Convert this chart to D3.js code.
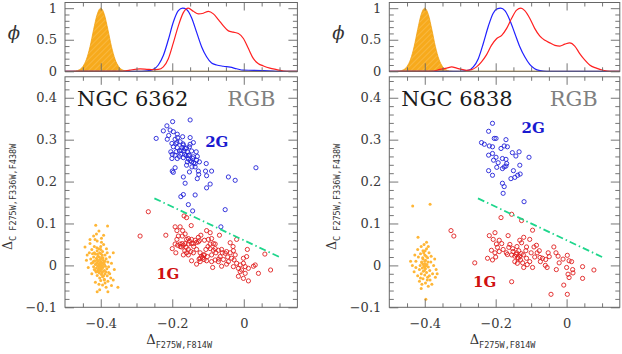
<!DOCTYPE html>
<html>
<head>
<meta charset="utf-8">
<script src="https://cdn.jsdelivr.net/npm/d3@7"></script>
<style>
body { margin: 0; background: #fff; }
</style>
</head>
<body>
<svg width="622" height="354"></svg>
<script>
// cluster names and population labels
const clusters = ["NGC 6362", "NGC 6838"];
const stage = "RGB";

// NGC 6362: 1G (red), 2G (blue) and error distribution (orange)
const red6362 = [[-0.267,0.128],[-0.167,0.118],[-0.160,0.114],[-0.147,0.095],[-0.192,0.092],[-0.178,0.092],
  [-0.218,0.072],[-0.290,0.070],[-0.187,0.083],[-0.171,0.083],[-0.172,0.070],[-0.183,0.070],[-0.187,0.062],
  [-0.164,0.075],[-0.155,0.064],[-0.146,0.062],[-0.136,0.060],[-0.127,0.067],[-0.120,0.072],[-0.127,0.056],
  [-0.141,0.052],[-0.192,0.051],[-0.178,0.051],[-0.169,0.048],[-0.164,0.052],[-0.155,0.051],[-0.146,0.052],
  [-0.132,0.055],[-0.124,0.059],[-0.174,0.044],[-0.161,0.043],[-0.155,0.038],[-0.148,0.033],[-0.160,0.030],
  [-0.169,0.025],[-0.155,0.025],[-0.141,0.030],[-0.132,0.038],[-0.104,0.083],[-0.094,0.078],[-0.068,0.072],
  [-0.099,0.062],[-0.090,0.064],[-0.085,0.052],[-0.094,0.051],[-0.080,0.051],[-0.094,0.040],[-0.085,0.036],
  [-0.106,0.038],[-0.122,0.030],[-0.113,0.025],[-0.102,0.021],[-0.111,0.014],[-0.122,0.017],[-0.090,0.025],
  [-0.078,0.030],[-0.071,0.036],[-0.062,0.038],[-0.052,0.029],[-0.048,0.033],[-0.038,0.054],[-0.020,0.062],
  [-0.066,0.021],[-0.057,0.014],[-0.080,0.013],[-0.071,0.009],[-0.090,0.009],[-0.104,0.011],[-0.122,0.009],
  [-0.146,0.011],[-0.132,0.003],[-0.038,0.030],[-0.029,0.035],[-0.024,0.025],[-0.034,0.017],[-0.043,0.009],
  [-0.027,0.013],[-0.020,0.005],[-0.010,0.001],[-0.001,0.017],[0.008,0.021],[0.010,0.038],[-0.001,0.005],
  [0.004,-0.003],[0.013,-0.007],[-0.015,-0.007],[-0.006,-0.011],[-0.010,-0.015],[0.004,-0.019],[-0.015,-0.026],
  [-0.001,-0.031],[0.013,-0.037],[0.027,-0.002],[0.032,0.001],[0.041,-0.019],[0.059,0.027],[0.075,-0.011],
  [-0.087,-0.005],[-0.062,-0.002],[-0.048,0.003],[-0.029,-0.003],[-0.185,0.048],[-0.178,0.045],[-0.172,0.052],
  [-0.118,0.022],[-0.115,0.018],[-0.110,0.025],[-0.125,0.015],[-0.060,0.030],[-0.070,0.015],[-0.140,0.045],
  [-0.152,0.058],[-0.160,0.062],[-0.080,0.040],[-0.045,0.020],[-0.030,0.045],[-0.190,0.030],[-0.200,0.040],
  [-0.165,0.035],[-0.100,0.045],[-0.110,0.060]];
const blue6362 = [[-0.150,0.347],[-0.199,0.343],[-0.215,0.333],[-0.225,0.321],[-0.206,0.323],[-0.197,0.319],
  [-0.186,0.313],[-0.171,0.307],[-0.150,0.305],[-0.245,0.303],[-0.214,0.301],[-0.192,0.301],[-0.201,0.291],
  [-0.187,0.293],[-0.178,0.295],[-0.169,0.287],[-0.150,0.289],[-0.141,0.293],[-0.197,0.283],[-0.186,0.281],
  [-0.173,0.281],[-0.164,0.279],[-0.152,0.283],[-0.204,0.271],[-0.189,0.271],[-0.180,0.273],[-0.167,0.273],
  [-0.158,0.271],[-0.146,0.273],[-0.133,0.271],[-0.192,0.263],[-0.176,0.265],[-0.161,0.262],[-0.152,0.263],
  [-0.141,0.259],[-0.201,0.255],[-0.186,0.255],[-0.169,0.257],[-0.155,0.254],[-0.143,0.255],[-0.132,0.251],
  [-0.158,0.247],[-0.146,0.247],[-0.136,0.243],[-0.124,0.247],[-0.105,0.243],[-0.160,0.239],[-0.136,0.235],
  [-0.192,0.233],[-0.197,0.222],[-0.152,0.223],[-0.127,0.225],[-0.107,0.225],[-0.090,0.225],[-0.126,0.217],
  [-0.104,0.214],[-0.169,0.211],[-0.130,0.207],[-0.043,0.211],[-0.024,0.203],[0.034,0.233],[-0.164,0.196],
  [-0.094,0.194],[-0.104,0.185],[-0.169,0.169],[-0.176,0.164],[-0.136,0.168],[-0.155,0.145],[-0.143,0.130],
  [-0.052,0.133],[-0.064,0.092],[-0.175,0.275],[-0.165,0.265],[-0.180,0.260],[-0.160,0.280],[-0.155,0.262],
  [-0.170,0.290],[-0.190,0.290],[-0.140,0.245],[-0.150,0.250],[-0.200,0.265],[-0.210,0.310],[-0.185,0.305],
  [-0.130,0.260],[-0.145,0.235],[-0.200,0.225]];
const err6362 = [[-0.414,0.096],[-0.381,0.094],[-0.405,0.082],[-0.420,0.070],[-0.398,0.065],[-0.410,0.058],
  [-0.430,0.052],[-0.444,0.044],[-0.392,0.050],[-0.418,0.045],[-0.405,0.040],[-0.425,0.038],[-0.410,0.035],
  [-0.395,0.033],[-0.432,0.030],[-0.400,0.028],[-0.415,0.027],[-0.388,0.025],[-0.408,0.022],[-0.420,0.020],
  [-0.397,0.019],[-0.412,0.017],[-0.385,0.016],[-0.428,0.015],[-0.403,0.014],[-0.393,0.012],[-0.417,0.011],
  [-0.408,0.010],[-0.400,0.009],[-0.380,0.008],[-0.422,0.007],[-0.411,0.006],[-0.396,0.005],[-0.405,0.004],
  [-0.390,0.003],[-0.415,0.002],[-0.402,0.001],[-0.398,0.000],[-0.409,-0.001],[-0.387,-0.002],[-0.420,-0.003],
  [-0.400,-0.004],[-0.394,-0.005],[-0.412,-0.006],[-0.405,-0.007],[-0.383,-0.008],[-0.398,-0.009],[-0.418,-0.010],
  [-0.407,-0.011],[-0.390,-0.012],[-0.401,-0.013],[-0.395,-0.015],[-0.413,-0.016],[-0.378,-0.017],[-0.404,-0.018],
  [-0.388,-0.020],[-0.398,-0.022],[-0.410,-0.024],[-0.382,-0.025],[-0.395,-0.027],[-0.403,-0.030],[-0.372,-0.030],
  [-0.390,-0.033],[-0.400,-0.036],[-0.380,-0.038],[-0.415,-0.040],[-0.388,-0.042],[-0.395,-0.047],[-0.370,-0.048],
  [-0.385,-0.052],[-0.352,-0.052],[-0.403,-0.058],[-0.410,-0.063],[-0.380,-0.063],[-0.365,-0.035],[-0.362,-0.010],
  [-0.370,0.005],[-0.375,0.020],[-0.365,0.030],[-0.440,0.012],[-0.435,-0.005],[-0.430,0.062],[-0.438,0.025],
  [-0.425,-0.020],[-0.412,0.075],[-0.392,0.072],[-0.400,0.045],[-0.384,0.040],[-0.378,-0.003],[-0.418,0.030],
  [-0.402,0.006],[-0.399,0.015],[-0.406,-0.002],[-0.395,-0.001],[-0.410,0.013],[-0.404,0.020],[-0.391,0.008],
  [-0.407,-0.015],[-0.397,-0.018],[-0.413,0.004],[-0.401,-0.008],[-0.394,0.018],[-0.420,0.010],[-0.388,0.010],
  [-0.403,0.030],[-0.396,0.025],[-0.409,0.027],[-0.415,-0.012],[-0.392,-0.025],[-0.386,-0.015],[-0.400,0.038],
  [-0.411,0.042],[-0.423,0.028],[-0.426,0.005],[-0.390,-0.035],[-0.405,-0.045],[-0.375,-0.020],[-0.398,0.055],
  [-0.416,0.062],[-0.382,0.030]];

// NGC 6838
const red6838 = [[-0.326,0.083],[-0.318,0.070],[-0.155,0.122],[-0.185,0.114],[-0.127,0.107],[-0.096,0.084],
  [-0.218,0.071],[-0.202,0.078],[-0.207,0.062],[-0.165,0.071],[-0.132,0.060],[-0.121,0.067],[-0.127,0.054],
  [-0.104,0.062],[-0.198,0.051],[-0.183,0.052],[-0.195,0.043],[-0.179,0.038],[-0.212,0.036],[-0.202,0.030],
  [-0.190,0.033],[-0.163,0.043],[-0.152,0.040],[-0.151,0.033],[-0.141,0.030],[-0.113,0.044],[-0.085,0.048],
  [-0.092,0.044],[-0.077,0.035],[-0.083,0.030],[-0.036,0.044],[-0.223,0.017],[-0.209,0.013],[-0.167,0.026],
  [-0.155,0.025],[-0.146,0.022],[-0.132,0.022],[-0.122,0.025],[-0.136,0.017],[-0.130,0.013],[-0.146,0.009],
  [-0.139,0.005],[-0.124,0.006],[-0.113,0.017],[-0.104,0.009],[-0.111,0.002],[-0.096,-0.005],[-0.121,-0.005],
  [-0.075,0.019],[-0.068,0.017],[-0.059,0.014],[-0.049,0.021],[-0.074,0.009],[-0.052,0.030],[-0.024,0.022],
  [0.002,0.024],[0.007,0.011],[0.014,0.009],[-0.021,0.006],[-0.055,-0.005],[-0.029,-0.010],[0.000,-0.005],
  [0.017,-0.010],[0.018,-0.018],[0.004,-0.021],[0.007,-0.029],[0.045,-0.003],[0.045,-0.031],[0.077,-0.011],
  [-0.008,-0.047],[-0.044,-0.069],[0.002,-0.069],[-0.259,0.006],[-0.155,-0.039],[-0.138,0.019],[-0.142,0.026],
  [-0.128,0.028],[-0.135,0.035],[-0.170,0.030],[-0.160,0.050],[-0.100,0.030],[-0.060,0.000],[-0.030,0.030],
  [-0.010,0.015],[-0.115,0.035],[-0.140,0.045],[-0.190,0.060],[-0.200,0.020],[-0.090,0.020]];
const blue6838 = [[-0.209,0.339],[-0.220,0.320],[-0.204,0.303],[-0.199,0.303],[-0.240,0.293],[-0.232,0.289],
  [-0.218,0.285],[-0.209,0.283],[-0.171,0.300],[-0.185,0.279],[-0.176,0.285],[-0.167,0.283],[-0.134,0.271],
  [-0.220,0.263],[-0.209,0.267],[-0.199,0.258],[-0.153,0.269],[-0.143,0.261],[-0.106,0.258],[-0.206,0.251],
  [-0.181,0.255],[-0.171,0.253],[-0.193,0.245],[-0.169,0.243],[-0.197,0.234],[-0.181,0.231],[-0.176,0.235],
  [-0.171,0.237],[-0.132,0.239],[-0.220,0.226],[-0.209,0.215],[-0.150,0.226],[-0.138,0.215],[-0.131,0.218],
  [-0.157,0.207],[-0.146,0.210],[-0.181,0.196],[-0.176,0.188],[-0.179,0.172],[-0.120,0.152]];
const err6838 = [[-0.434,0.142],[-0.385,0.146],[-0.397,-0.081],[-0.419,0.067],[-0.410,0.045],[-0.395,0.040],
  [-0.405,0.035],[-0.388,0.030],[-0.412,0.028],[-0.400,0.025],[-0.418,0.020],[-0.392,0.018],[-0.405,0.015],
  [-0.398,0.012],[-0.425,0.010],[-0.383,0.008],[-0.408,0.006],[-0.400,0.004],[-0.394,0.002],[-0.413,0.000],
  [-0.402,-0.002],[-0.390,-0.004],[-0.407,-0.006],[-0.398,-0.008],[-0.415,-0.010],[-0.386,-0.012],[-0.404,-0.014],
  [-0.395,-0.017],[-0.410,-0.020],[-0.400,-0.023],[-0.378,-0.020],[-0.392,-0.028],[-0.405,-0.032],[-0.385,-0.035],
  [-0.415,-0.038],[-0.398,-0.042],[-0.370,-0.028],[-0.420,-0.025],[-0.440,0.010],[-0.430,-0.015],[-0.375,0.000],
  [-0.372,0.015],[-0.368,-0.010],[-0.420,0.038],[-0.428,0.025],[-0.402,0.050],[-0.390,-0.050],[-0.410,-0.055],
  [-0.380,-0.045],[-0.400,0.010],[-0.396,0.022],[-0.406,0.018],[-0.391,0.008],[-0.401,-0.012],[-0.409,0.008],
  [-0.397,-0.001],[-0.403,0.030],[-0.387,-0.025],[-0.412,-0.030],[-0.395,0.055],[-0.382,0.022],[-0.365,-0.020],
  [-0.425,-0.005],[-0.435,0.000],[-0.390,0.045],[-0.408,-0.045],[-0.393,-0.035],[-0.400,-0.005],[-0.404,0.002],
  [-0.399,0.035]];

// normalised kernel densities (x, phi)
const errHist6362 = [[-0.5,0],[-0.48,0.001],[-0.47,0.006],[-0.46,0.024],[-0.45,0.076],[-0.44,0.19],[-0.43,0.39],
  [-0.42,0.66],[-0.41,0.9],[-0.4,1],[-0.39,0.9],[-0.38,0.66],[-0.37,0.39],[-0.36,0.19],[-0.35,0.076],
  [-0.34,0.024],[-0.33,0.006],[-0.32,0.001],[0.15,0]];
const blueHist6362 = [[-0.5,0],[-0.3,0],[-0.27,0.008],[-0.253,0.03],[-0.239,0.1],[-0.225,0.25],[-0.211,0.5],
  [-0.197,0.78],[-0.183,0.96],[-0.171,1],[-0.16,0.98],[-0.146,0.85],[-0.132,0.62],[-0.118,0.39],[-0.104,0.23],
  [-0.09,0.13],[-0.076,0.1],[-0.057,0.08],[-0.038,0.065],[-0.02,0.04],[-0.001,0.018],[0.027,0.016],
  [0.055,0.01],[0.092,0],[0.15,0]];
const redHist6362 = [[-0.5,0],[-0.34,0],[-0.318,0.02],[-0.29,0.037],[-0.271,0.032],[-0.253,0.027],[-0.239,0.03],
  [-0.225,0.07],[-0.211,0.2],[-0.197,0.45],[-0.183,0.72],[-0.169,0.93],[-0.155,1],[-0.141,0.95],[-0.127,0.91],
  [-0.113,0.92],[-0.099,0.95],[-0.085,0.91],[-0.071,0.82],[-0.057,0.72],[-0.043,0.64],[-0.029,0.62],
  [-0.015,0.6],[-0.001,0.52],[0.013,0.36],[0.027,0.2],[0.041,0.12],[0.055,0.085],[0.073,0.05],[0.092,0.027],
  [0.111,0.005],[0.129,0],[0.15,0]];
const errHist6838 = [[-0.5,0],[-0.48,0.001],[-0.47,0.006],[-0.46,0.024],[-0.45,0.076],[-0.44,0.19],[-0.43,0.39],
  [-0.42,0.66],[-0.41,0.9],[-0.4,1],[-0.39,0.9],[-0.38,0.66],[-0.37,0.39],[-0.36,0.19],[-0.35,0.076],
  [-0.34,0.024],[-0.33,0.006],[-0.32,0.001],[0.15,0]];
const blueHist6838 = [[-0.5,0],[-0.31,0],[-0.292,0.005],[-0.277,0.016],[-0.263,0.07],[-0.249,0.2],[-0.235,0.44],
  [-0.221,0.71],[-0.207,0.92],[-0.196,0.99],[-0.186,1],[-0.174,0.96],[-0.16,0.81],[-0.146,0.6],[-0.132,0.39],
  [-0.118,0.23],[-0.104,0.11],[-0.09,0.04],[-0.075,0.01],[-0.057,0],[0.15,0]];
const redHist6838 = [[-0.5,0],[-0.38,0],[-0.357,0.03],[-0.338,0.05],[-0.324,0.07],[-0.31,0.05],[-0.296,0.03],
  [-0.282,0.016],[-0.268,0.027],[-0.254,0.07],[-0.24,0.15],[-0.226,0.26],[-0.212,0.41],[-0.197,0.52],
  [-0.183,0.57],[-0.169,0.68],[-0.155,0.84],[-0.141,0.97],[-0.129,1],[-0.118,0.96],[-0.104,0.84],[-0.09,0.68],
  [-0.076,0.56],[-0.061,0.49],[-0.047,0.45],[-0.033,0.41],[-0.019,0.4],[-0.005,0.43],[0.009,0.45],[0.023,0.4],
  [0.037,0.28],[0.051,0.18],[0.065,0.1],[0.084,0.05],[0.103,0.016],[0.122,0],[0.15,0]];

// 1G / 2G separating line
const cutX = [-0.25, 0.1];
const cutY = [0.16, 0.02];

// tick values
const xMajor = [-0.4, -0.2, 0];
const xMinor = [-0.45, -0.35, -0.3, -0.25, -0.15, -0.1, -0.05, 0.05, 0.1];
const yMajor = [-0.1, 0, 0.1, 0.2, 0.3, 0.4];
const phiMajor = [0, 0.5, 1];

const panels = [
  {name: clusters[0], red: red6362, blue: blue6362, err: err6362,
   hRed: redHist6362, hBlue: blueHist6362, hErr: errHist6362,
   left: 65, width: 232.4, g2: [-0.108, 0.283], g1: [-0.245, -0.033]},
  {name: clusters[1], red: red6838, blue: blue6838, err: err6838,
   hRed: redHist6838, hBlue: blueHist6838, hErr: errHist6838,
   left: 389.3, width: 230.5, g2: [-0.127, 0.316], g1: [-0.264, -0.052]}
];

const svg = d3.select("svg");
const frameCol = "#666";
const numFont = "DejaVu Serif";

const defs = svg.append("defs");
const pat = defs.append("pattern")
  .attr("id", "hatch")
  .attr("patternUnits", "userSpaceOnUse")
  .attr("width", 4).attr("height", 4)
  .attr("patternTransform", "rotate(45)");
pat.append("line")
  .attr("x1", 0).attr("y1", 0).attr("x2", 0).attr("y2", 4)
  .attr("stroke", "#fff").attr("stroke-opacity", 0.4).attr("stroke-width", 0.8);

const yMinor = d3.range(-0.08, 0.45, 0.02).map(d => +d.toFixed(2)).filter(d => Math.abs(d * 10 - Math.round(d * 10)) > 1e-6);
const phiMinor = [0.1, 0.2, 0.3, 0.4, 0.6, 0.7, 0.8, 0.9];

const fmt = d => d === 0 ? "0" : d3.format(".1f")(d);
const fmtPhi = d => d === 0 ? "0" : (d === 1 ? "1" : "0.5");

// draws inward ticks on one side of a frame
function ticks(g, axisFn, scale, values, size, format, pad) {
  g.call(axisFn(scale).tickValues(values).tickSizeInner(-size).tickSizeOuter(0)
    .tickFormat(format || "").tickPadding(pad || 3));
  g.select(".domain").remove();
  g.selectAll(".tick line").attr("stroke", frameCol).attr("stroke-width", 0.9);
  g.selectAll("text").attr("font-family", numFont).attr("font-size", 13).attr("fill", "#3a3a3a");
}

panels.forEach(function(p) {
  const x = d3.scaleLinear().domain([-0.5, 0.15]).range([p.left, p.left + p.width]);
  const yH = d3.scaleLinear().domain([0, 1.09]).range([71.3, 2.5]);
  const yS = d3.scaleLinear().domain([-0.1, 0.45]).range([307.3, 76.8]);
  const g = svg.append("g");

  // ---- histogram panel
  const area = d3.area().x(d => x(d[0])).y0(yH(0)).y1(d => yH(d[1])).curve(d3.curveMonotoneX);
  const line = d3.line().x(d => x(d[0])).y(d => yH(d[1])).curve(d3.curveMonotoneX);
  g.append("path").datum(p.hErr).attr("d", area).attr("fill", "#f7aa1c");
  g.append("path").datum(p.hErr).attr("d", area).attr("fill", "url(#hatch)");
  g.append("path").datum(p.hErr).attr("d", line).attr("fill", "none").attr("stroke", "#f0a010").attr("stroke-width", 0.8);
  g.append("path").datum(p.hBlue).attr("d", line).attr("fill", "none").attr("stroke", "#2020ff").attr("stroke-width", 1.2);
  g.append("path").datum(p.hRed).attr("d", line).attr("fill", "none").attr("stroke", "#ff2020").attr("stroke-width", 1.2);

  // ---- scatter panel
  g.append("g").selectAll("circle").data(p.err).join("circle")
    .attr("cx", d => x(d[0])).attr("cy", d => yS(d[1])).attr("r", 1.5)
    .attr("fill", "#ffb636");
  g.append("g").selectAll("circle").data(p.red).join("circle")
    .attr("cx", d => x(d[0])).attr("cy", d => yS(d[1])).attr("r", 2.1)
    .attr("fill", "none").attr("stroke", "#e02020").attr("stroke-width", 0.9);
  g.append("g").selectAll("circle").data(p.blue).join("circle")
    .attr("cx", d => x(d[0])).attr("cy", d => yS(d[1])).attr("r", 2.1)
    .attr("fill", "none").attr("stroke", "#2222d8").attr("stroke-width", 0.9);

  g.append("path")
    .datum(cutX.map((d, i) => [d, cutY[i]]))
    .attr("d", d3.line().x(d => x(d[0])).y(d => yS(d[1])))
    .attr("fill", "none").attr("stroke", "#1ed68c").attr("stroke-width", 1.8)
    .attr("stroke-dasharray", "7,3,1.5,3");

  // frames
  [[2.5, 71.3], [76.8, 307.3]].forEach(function(r) {
    g.append("rect").attr("x", x.range()[0]).attr("y", r[0])
      .attr("width", p.width).attr("height", r[1] - r[0])
      .attr("fill", "none").attr("stroke", frameCol).attr("stroke-width", 1);
  });

  // ticks: scatter
  ticks(g.append("g").attr("transform", "translate(0,307.3)"), d3.axisBottom, x, xMajor, 8, fmt, 11);
  ticks(g.append("g").attr("transform", "translate(0,307.3)"), d3.axisBottom, x, xMinor, 4);
  ticks(g.append("g").attr("transform", "translate(0,76.8)"), d3.axisTop, x, xMajor, 8);
  ticks(g.append("g").attr("transform", "translate(0,76.8)"), d3.axisTop, x, xMinor, 4);
  ticks(g.append("g").attr("transform", `translate(${p.left},0)`), d3.axisLeft, yS, yMajor, 9, fmt, 8);
  ticks(g.append("g").attr("transform", `translate(${p.left},0)`), d3.axisLeft, yS, yMinor, 4.5);
  ticks(g.append("g").attr("transform", `translate(${p.left + p.width},0)`), d3.axisRight, yS, yMajor, 9);
  ticks(g.append("g").attr("transform", `translate(${p.left + p.width},0)`), d3.axisRight, yS, yMinor, 4.5);
  // ticks: histogram
  ticks(g.append("g").attr("transform", "translate(0,71.3)"), d3.axisBottom, x, xMajor, 8);
  ticks(g.append("g").attr("transform", "translate(0,71.3)"), d3.axisBottom, x, xMinor, 4);
  ticks(g.append("g").attr("transform", "translate(0,2.5)"), d3.axisTop, x, xMajor, 8);
  ticks(g.append("g").attr("transform", "translate(0,2.5)"), d3.axisTop, x, xMinor, 4);
  ticks(g.append("g").attr("transform", `translate(${p.left},0)`), d3.axisLeft, yH, phiMajor, 9, fmtPhi, 8);
  ticks(g.append("g").attr("transform", `translate(${p.left},0)`), d3.axisLeft, yH, phiMinor, 4.5);
  ticks(g.append("g").attr("transform", `translate(${p.left + p.width},0)`), d3.axisRight, yH, phiMajor, 9);
  ticks(g.append("g").attr("transform", `translate(${p.left + p.width},0)`), d3.axisRight, yH, phiMinor, 4.5);

  // titles
  g.append("text").attr("x", p.left + 12).attr("y", 106)
    .attr("font-family", numFont).attr("font-size", 21).attr("fill", "#1a1a1a").text(p.name);
  g.append("text").attr("x", p.left + p.width - 22).attr("y", 106).attr("text-anchor", "end")
    .attr("font-family", numFont).attr("font-size", 21).attr("fill", "#808080").text(stage);
  g.append("text").attr("x", x(p.g2[0])).attr("y", yS(p.g2[1]))
    .attr("font-family", numFont).attr("font-weight", "bold").attr("font-size", 15)
    .attr("fill", "#1a1ad0").text("2G");
  g.append("text").attr("x", x(p.g1[0])).attr("y", yS(p.g1[1]))
    .attr("font-family", numFont).attr("font-weight", "bold").attr("font-size", 15)
    .attr("fill", "#d01010").text("1G");

  // axis titles
  g.append("text").attr("x", p.left - 51).attr("y", 39).attr("text-anchor", "middle")
    .attr("font-family", numFont).attr("font-style", "italic").attr("font-size", 18)
    .attr("fill", "#333").text("ϕ");

  const xl = g.append("text").attr("x", p.left + p.width / 2 - 2).attr("y", 344)
    .attr("text-anchor", "middle").attr("fill", "#333");
  xl.append("tspan").attr("font-family", numFont).attr("font-size", 13).text("Δ");
  xl.append("tspan").attr("font-family", "DejaVu Sans Mono").attr("font-size", 8.5).attr("dy", 4)
    .text("F275W,F814W");

  const yl = g.append("text")
    .attr("transform", `translate(${p.left - 53.5},250) rotate(-90)`).attr("fill", "#333");
  yl.append("tspan").attr("font-family", numFont).attr("font-size", 12.5).text("Δ");
  yl.append("tspan").attr("font-family", "DejaVu Sans Mono").attr("font-size", 8.5).attr("dy", 4)
    .text("C F275W,F336W,F438W");
});
</script>
</body>
</html>
